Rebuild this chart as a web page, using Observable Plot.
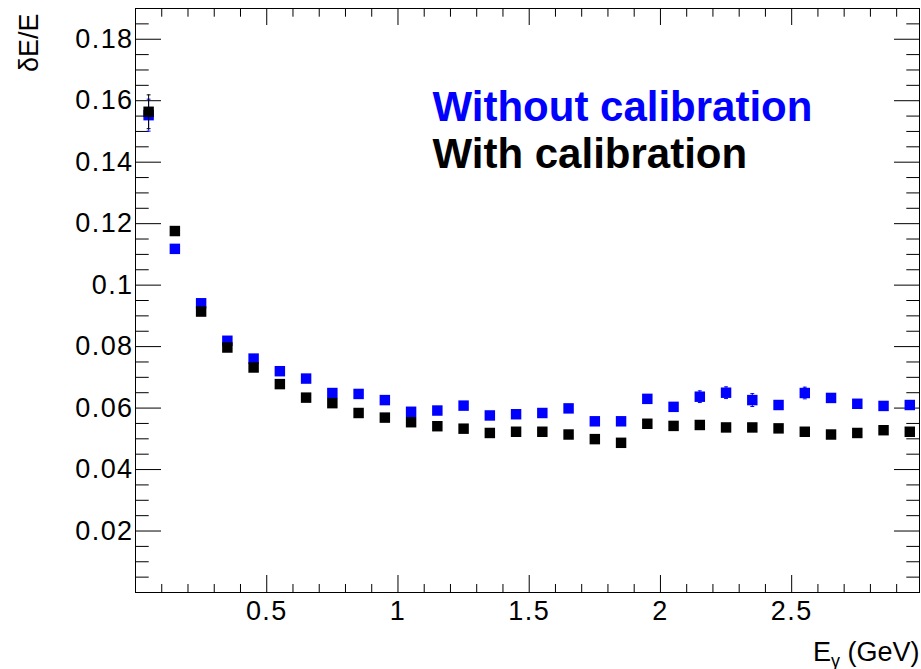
<!DOCTYPE html>
<html>
<head>
<meta charset="utf-8">
<script src="https://cdn.jsdelivr.net/npm/d3@7"></script>
<script src="https://cdn.jsdelivr.net/npm/@observablehq/plot@0.6"></script>
<style>
  html, body { margin: 0; padding: 0; background: #fff; }
  #chart svg { display: block; }
  #chart g[aria-label="y-axis tick label"] text,
  #chart g[aria-label="x-axis tick label"] text { letter-spacing: 1.4px; }
</style>
</head>
<body>
<div id="chart"></div>
<script>
// ---- data ----
const energy = [0.05, 0.15, 0.25, 0.35, 0.45, 0.55, 0.65, 0.75, 0.85, 0.95,
                1.05, 1.15, 1.25, 1.35, 1.45, 1.55, 1.65, 1.75, 1.85, 1.95,
                2.05, 2.15, 2.25, 2.35, 2.45, 2.55, 2.65, 2.75, 2.85, 2.95];
const withoutCalib = [0.1553, 0.1118, 0.0941, 0.0819, 0.0761, 0.0720, 0.0696, 0.0649, 0.0646, 0.0626,
                      0.0588, 0.0592, 0.0608, 0.0576, 0.0580, 0.0584, 0.0599, 0.0557, 0.0557, 0.0630,
                      0.0604, 0.0637, 0.0650, 0.0626, 0.0610, 0.0649, 0.0633, 0.0614, 0.0607, 0.0610];
const withoutCalibErr = [0.0052, 0.0012, 0.0012, 0.0008, 0.0008, 0.0008, 0.0008, 0.0008, 0.0008, 0.0008,
                         0.0008, 0.0008, 0.0008, 0.0008, 0.0008, 0.0008, 0.0008, 0.0008, 0.0008, 0.0012,
                         0.0009, 0.0019, 0.0019, 0.0021, 0.0008, 0.0019, 0.0012, 0.0011, 0.0008, 0.0011];
const withCalib = [0.1564, 0.1176, 0.0914, 0.0797, 0.0732, 0.0678, 0.0634, 0.0616, 0.0584, 0.0569,
                   0.0554, 0.0541, 0.0533, 0.0519, 0.0523, 0.0523, 0.0514, 0.0499, 0.0487, 0.0549,
                   0.0542, 0.0545, 0.0537, 0.0537, 0.0534, 0.0523, 0.0514, 0.0519, 0.0528, 0.0523];
const withCalibErr = [0.0055, 0.0014, 0.0008, 0.0007, 0.0007, 0.0007, 0.0007, 0.0007, 0.0007, 0.0007,
                      0.0007, 0.0007, 0.0007, 0.0007, 0.0007, 0.0007, 0.0007, 0.0007, 0.0007, 0.0007,
                      0.0007, 0.0007, 0.0007, 0.0007, 0.0007, 0.0007, 0.0007, 0.0007, 0.0007, 0.0007];

const xMajor = [0.5, 1, 1.5, 2, 2.5];
const xTickLabels = ["0.5", "1", "1.5", "2", "2.5"];
const xMinor = [0.1, 0.2, 0.3, 0.4, 0.6, 0.7, 0.8, 0.9, 1.1, 1.2, 1.3, 1.4, 1.6, 1.7, 1.8, 1.9,
                2.1, 2.2, 2.3, 2.4, 2.6, 2.7, 2.8, 2.9];
const yMajor = [0.02, 0.04, 0.06, 0.08, 0.1, 0.12, 0.14, 0.16, 0.18];
const yTickLabels = ["0.02", "0.04", "0.06", "0.08", "0.1", "0.12", "0.14", "0.16", "0.18"];
const yMinor = [0.005, 0.01, 0.015, 0.025, 0.03, 0.035, 0.045, 0.05, 0.055, 0.065, 0.07, 0.075,
                0.085, 0.09, 0.095, 0.105, 0.11, 0.115, 0.125, 0.13, 0.135, 0.145, 0.15, 0.155,
                0.165, 0.17, 0.175, 0.185];

const xDomain = [0, 2.987];
const yDomain = [0, 0.19];
const yTitle = "δE/E";
const xTitle = "Eγ (GeV)";
const legendLabels = ["Without calibration", "With calibration"];
const seriesColors = ["#0000ff", "#000000"];

// ---- tables ----
const rows = (vals, errs, name) => energy.map((e, i) => ({e, v: vals[i], lo: vals[i] - errs[i], hi: vals[i] + errs[i], name}));
const blueRows = rows(withoutCalib, withoutCalibErr, legendLabels[0]);
const blackRows = rows(withCalib, withCalibErr, legendLabels[1]);

const capSymbol = {
  draw(context, size) {
    const w = Math.sqrt(size) / 2;
    context.moveTo(-w, 0);
    context.lineTo(w, 0);
  }
};

const font = "'Liberation Sans', Arial, Helvetica, sans-serif";
const squareR = 5.9;

function errorMarks(data, color) {
  return [
    Plot.ruleX(data, {x: "e", y1: "lo", y2: "hi", stroke: color, strokeWidth: 1}),
    Plot.dot(data, {x: "e", y: "lo", symbol: capSymbol, r: 2.2, stroke: color, strokeWidth: 1, fill: "none"}),
    Plot.dot(data, {x: "e", y: "hi", symbol: capSymbol, r: 2.2, stroke: color, strokeWidth: 1, fill: "none"})
  ];
}

const chart = Plot.plot({
  width: 921,
  height: 669,
  marginLeft: 135,
  marginRight: 2,
  marginTop: 8,
  marginBottom: 77,
  style: {fontFamily: font, fontSize: "27px", background: "#fff", color: "#000"},
  x: {domain: xDomain},
  y: {domain: yDomain},
  marks: [
    // inward ticks: left, right, bottom, top
    Plot.axisY(yMajor, {anchor: "right", frameAnchor: "left", tickSize: 25, fill: "none", label: null, stroke: "#000"}),
    Plot.axisY(yMinor, {anchor: "right", frameAnchor: "left", tickSize: 12.7, fill: "none", label: null, stroke: "#000"}),
    Plot.axisY(yMajor, {anchor: "left", frameAnchor: "right", tickSize: 25, fill: "none", label: null, stroke: "#000"}),
    Plot.axisY(yMinor, {anchor: "left", frameAnchor: "right", tickSize: 12.7, fill: "none", label: null, stroke: "#000"}),
    Plot.axisX(xMajor, {anchor: "top", frameAnchor: "bottom", tickSize: 18, fill: "none", label: null, stroke: "#000"}),
    Plot.axisX(xMinor, {anchor: "top", frameAnchor: "bottom", tickSize: 9, fill: "none", label: null, stroke: "#000"}),
    Plot.axisX(xMajor, {anchor: "bottom", frameAnchor: "top", tickSize: 17, fill: "none", label: null, stroke: "#000"}),
    Plot.axisX(xMinor, {anchor: "bottom", frameAnchor: "top", tickSize: 8.7, fill: "none", label: null, stroke: "#000"}),
    // tick labels
    Plot.axisY(yMajor, {anchor: "left", tickSize: 0, tickPadding: 2, label: null, fontSize: 27,
      tickFormat: d => yTickLabels[yMajor.indexOf(d)]}),
    Plot.axisX(xMajor, {anchor: "bottom", tickSize: 0, tickPadding: 8, label: null, fontSize: 27,
      tickFormat: d => xTickLabels[xMajor.indexOf(d)]}),
    // data
    ...errorMarks(blueRows, seriesColors[0]),
    Plot.dot(blueRows, {x: "e", y: "v", symbol: "square", r: squareR, fill: seriesColors[0], stroke: "none"}),
    ...errorMarks(blackRows, seriesColors[1]),
    Plot.dot(blackRows, {x: "e", y: "v", symbol: "square", r: squareR, fill: seriesColors[1], stroke: "none"}),
    Plot.frame({stroke: "#000", strokeWidth: 1}),
    // axis titles
    Plot.text([yTitle], {frameAnchor: "top-left", rotate: -90, textAnchor: "end", dx: -117, dy: 5, fontSize: 27, fill: "#000"}),
    Plot.text([xTitle], {frameAnchor: "bottom-right", textAnchor: "end", lineAnchor: "bottom", dy: 68, fontSize: 27, fill: "#000"}),
    // legend
    Plot.text([legendLabels[0]], {frameAnchor: "top-left", textAnchor: "start", lineAnchor: "bottom", dx: 297, dy: 112,
      fontSize: 42, fontWeight: "bold", fill: seriesColors[0]}),
    Plot.text([legendLabels[1]], {frameAnchor: "top-left", textAnchor: "start", lineAnchor: "bottom", dx: 297, dy: 159,
      fontSize: 42, fontWeight: "bold", fill: seriesColors[1]})
  ]
});

// subscript gamma in x title
chart.querySelectorAll("text").forEach(t => {
  if (t.textContent === xTitle) {
    t.textContent = "";
    const ns = "http://www.w3.org/2000/svg";
    const a = document.createElementNS(ns, "tspan"); a.textContent = "E";
    const b = document.createElementNS(ns, "tspan"); b.textContent = "γ"; b.setAttribute("font-size", "18"); b.setAttribute("dy", "6");
    const c = document.createElementNS(ns, "tspan"); c.textContent = " (GeV)"; c.setAttribute("dy", "-6");
    t.append(a, b, c);
  }
});

document.getElementById("chart").appendChild(chart);
</script>
</body>
</html>
